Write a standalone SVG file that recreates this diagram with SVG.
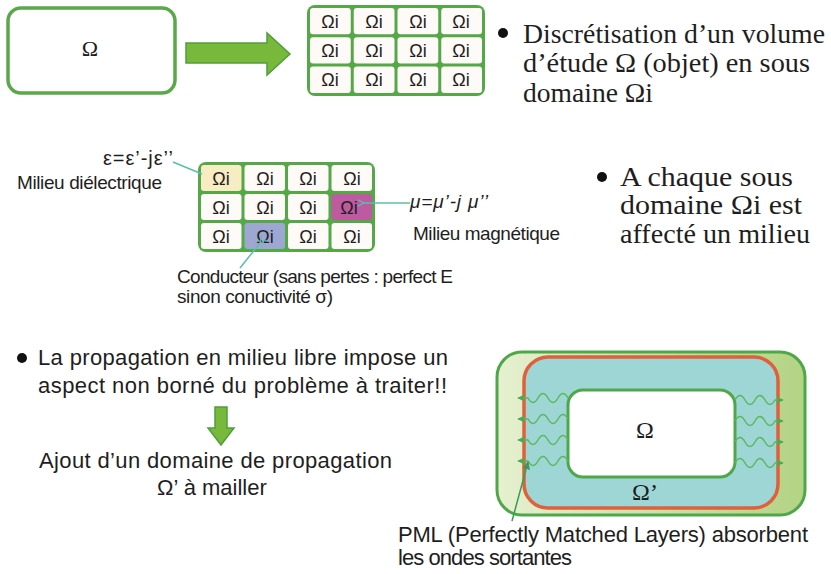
<svg xmlns="http://www.w3.org/2000/svg" width="831" height="574" viewBox="0 0 831 574">
<defs>
<style>
.serif{font-family:"Liberation Serif","Times New Roman",serif;fill:#1e1e1e}
.sans{font-family:"Liberation Sans",Arial,sans-serif;fill:#1e1e1e}
.cell{fill:#fefaf7}
.oi{font-family:"Liberation Sans",Arial,sans-serif;font-size:18px;fill:#1e1e1e;text-anchor:middle}
.grid{fill:#55a848}
.lbl{stroke:#5bbfa8;stroke-width:1.5;fill:none}
.wave{stroke:#5cb85c;stroke-width:1.5;fill:none}
.bigarrow{fill:#78b83a;stroke:#4f9e3c;stroke-width:1.5}
</style>
<marker id="chev" viewBox="0 0 10 10" refX="1" refY="5" markerWidth="8" markerHeight="8" orient="auto-start-reverse" markerUnits="userSpaceOnUse">
<path d="M9,1 L1,5 L9,9" fill="none" stroke="#5bbfa8" stroke-width="1.5"/>
</marker>
<marker id="wh" viewBox="0 0 10 10" refX="9" refY="5" markerWidth="7" markerHeight="7" orient="auto" markerUnits="userSpaceOnUse">
<path d="M0,0 L10,5 L0,10 z" fill="#4caa55"/>
</marker>
<marker id="ph" viewBox="0 0 10 10" refX="9" refY="5" markerWidth="8" markerHeight="8" orient="auto" markerUnits="userSpaceOnUse">
<path d="M0,0 L10,5 L0,10 z" fill="#3a9a5a"/>
</marker>
<linearGradient id="lg" x1="0" y1="0" x2="1" y2="0">
<stop offset="0" stop-color="#e6f0d0"/>
<stop offset="1" stop-color="#b3d384"/>
</linearGradient>
</defs>
<rect width="831" height="574" fill="#ffffff"/>

<g id="omega-box">
<rect x="8" y="8" width="167" height="85" rx="13" fill="#ffffff" stroke="#5aa84a" stroke-width="3.5"/>
<text class="serif" x="90" y="56" font-size="22" text-anchor="middle">Ω</text>
</g>

<g id="arrow-right">
<polygon class="bigarrow" points="186,43 267,43 267,33 290,54 267,75 267,63 186,63"/>
</g>

<g id="grid1">
<rect class="grid" x="307" y="5" width="178" height="91" rx="8"/>
<g>
<rect class="cell" x="310" y="8" width="40.75" height="26.3" rx="3"/>
<rect class="cell" x="353.75" y="8" width="40.75" height="26.3" rx="3"/>
<rect class="cell" x="397.5" y="8" width="40.75" height="26.3" rx="3"/>
<rect class="cell" x="441.25" y="8" width="40.75" height="26.3" rx="3"/>
<rect class="cell" x="310" y="37.3" width="40.75" height="26.3" rx="3"/>
<rect class="cell" x="353.75" y="37.3" width="40.75" height="26.3" rx="3"/>
<rect class="cell" x="397.5" y="37.3" width="40.75" height="26.3" rx="3"/>
<rect class="cell" x="441.25" y="37.3" width="40.75" height="26.3" rx="3"/>
<rect class="cell" x="310" y="66.6" width="40.75" height="26.3" rx="3"/>
<rect class="cell" x="353.75" y="66.6" width="40.75" height="26.3" rx="3"/>
<rect class="cell" x="397.5" y="66.6" width="40.75" height="26.3" rx="3"/>
<rect class="cell" x="441.25" y="66.6" width="40.75" height="26.3" rx="3"/>
</g>
<g>
<text class="oi" x="330" y="28">Ωi</text><text class="oi" x="374" y="28">Ωi</text><text class="oi" x="418" y="28">Ωi</text><text class="oi" x="461" y="28">Ωi</text>
<text class="oi" x="330" y="57">Ωi</text><text class="oi" x="374" y="57">Ωi</text><text class="oi" x="418" y="57">Ωi</text><text class="oi" x="461" y="57">Ωi</text>
<text class="oi" x="330" y="86">Ωi</text><text class="oi" x="374" y="86">Ωi</text><text class="oi" x="418" y="86">Ωi</text><text class="oi" x="461" y="86">Ωi</text>
</g>
</g>

<g id="text-discretisation">
<circle cx="503" cy="33" r="5" fill="#111"/>
<text class="serif" font-size="28" x="523" y="43" textLength="302" lengthAdjust="spacingAndGlyphs">Discrétisation d’un volume</text>
<text class="serif" font-size="28" x="523" y="72" textLength="287" lengthAdjust="spacingAndGlyphs">d’étude Ω (objet) en sous</text>
<text class="serif" font-size="28" x="523" y="102" textLength="130" lengthAdjust="spacingAndGlyphs">domaine Ωi</text>
</g>

<g id="grid2">
<rect class="grid" x="198" y="162" width="177" height="90" rx="8"/>
<g>
<rect x="201" y="165" width="40.5" height="26" rx="3" fill="#f8ecc2"/>
<rect class="cell" x="244.5" y="165" width="40.5" height="26" rx="3"/>
<rect class="cell" x="288" y="165" width="40.5" height="26" rx="3"/>
<rect class="cell" x="331.5" y="165" width="40.5" height="26" rx="3"/>
<rect class="cell" x="201" y="194" width="40.5" height="26" rx="3"/>
<rect class="cell" x="244.5" y="194" width="40.5" height="26" rx="3"/>
<rect class="cell" x="288" y="194" width="40.5" height="26" rx="3"/>
<rect x="331.5" y="194" width="40.5" height="26" rx="3" fill="#bd5aa0"/>
<rect class="cell" x="201" y="223" width="40.5" height="26" rx="3"/>
<rect x="244.5" y="223" width="40.5" height="26" rx="3" fill="#9ea7d2"/>
<rect class="cell" x="288" y="223" width="40.5" height="26" rx="3"/>
<rect class="cell" x="331.5" y="223" width="40.5" height="26" rx="3"/>
</g>
<g>
<text class="oi" x="221" y="185">Ωi</text><text class="oi" x="265" y="185">Ωi</text><text class="oi" x="308" y="185">Ωi</text><text class="oi" x="352" y="185">Ωi</text>
<text class="oi" x="221" y="214">Ωi</text><text class="oi" x="265" y="214">Ωi</text><text class="oi" x="308" y="214">Ωi</text><text class="oi" x="349" y="214">Ωi</text>
<text class="oi" x="221" y="243">Ωi</text><text class="oi" x="265" y="243">Ωi</text><text class="oi" x="308" y="243">Ωi</text><text class="oi" x="352" y="243">Ωi</text>
</g>
</g>

<g id="label-dielectric">
<text class="sans" font-size="20" x="103" y="165" textLength="70">ε=ε’-jε’’</text>
<text class="sans" font-size="19" x="17" y="189" textLength="145">Milieu diélectrique</text>
</g>
<g id="label-magnetic">
<text class="sans" font-size="19" font-style="italic" x="410" y="208" textLength="78">μ=μ’-j μ’’</text>
<text class="sans" font-size="19" x="413" y="240" textLength="147">Milieu magnétique</text>
</g>
<g id="label-conductor">
<text class="sans" font-size="19" x="177" y="283" textLength="276">Conducteur (sans pertes : perfect E</text>
<text class="sans" font-size="19" x="177" y="303" textLength="156">sinon  conuctivité σ)</text>
</g>

<g id="text-milieu">
<circle cx="602" cy="177" r="5" fill="#111"/>
<text class="serif" font-size="28" x="620" y="186" textLength="173" lengthAdjust="spacingAndGlyphs">A chaque sous</text>
<text class="serif" font-size="28" x="620" y="214" textLength="182" lengthAdjust="spacingAndGlyphs">domaine Ωi est</text>
<text class="serif" font-size="28" x="620" y="243" textLength="190" lengthAdjust="spacingAndGlyphs">affecté un milieu</text>
</g>

<g id="text-propagation">
<circle cx="22" cy="358" r="5" fill="#111"/>
<text class="sans" font-size="22" x="38" y="365" textLength="410">La propagation  en milieu libre impose un</text>
<text class="sans" font-size="22" x="38" y="393" textLength="409">aspect non borné du problème à traiter!!</text>
</g>

<g id="arrow-down">
<polygon class="bigarrow" points="215,407 227,407 227,428 234,428 221,445 208,428 215,428"/>
</g>

<g id="text-ajout">
<text class="sans" font-size="22" x="39" y="468" textLength="353">Ajout d’un domaine de propagation</text>
<text class="sans" font-size="22" x="157" y="495">Ω’ à mailler</text>
</g>

<g id="pml-figure">
<rect x="497" y="352" width="308" height="163" rx="25" fill="url(#lg)" stroke="#4ea84a" stroke-width="3"/>
<rect x="524" y="357" width="254" height="151" rx="24" fill="#9ed6d5" stroke="#e0603c" stroke-width="3.5"/>
<rect x="568" y="390" width="167" height="87" rx="15" fill="#ffffff" stroke="#4ea84a" stroke-width="3"/>
<text class="serif" font-size="24" x="645" y="438" text-anchor="middle">Ω</text>
<text class="serif" font-size="24" x="645" y="500" text-anchor="middle">Ω’</text>
</g>

<g id="connectors">
<line class="lbl" x1="173" y1="162" x2="202" y2="174"/>
<line class="lbl" x1="410" y1="203" x2="364" y2="203" marker-end="url(#chev)"/>
<line class="lbl" x1="240" y1="268" x2="260" y2="243" marker-end="url(#chev)"/>
<g>
<path class="wave" d="M568,398 q-5,-9 -10,0 t-10,0 t-10,0 t-10,0 l-10,0" marker-end="url(#wh)"/>
<path class="wave" d="M568,419 q-5,-9 -10,0 t-10,0 t-10,0 t-10,0 l-10,0" marker-end="url(#wh)"/>
<path class="wave" d="M568,440 q-5,-9 -10,0 t-10,0 t-10,0 t-10,0 l-10,0" marker-end="url(#wh)"/>
<path class="wave" d="M568,461 q-5,-9 -10,0 t-10,0 t-10,0 t-10,0 l-10,0" marker-end="url(#wh)"/>
<path class="wave" d="M735,400 q5,-9 10,0 t10,0 t10,0 t10,0 l8,0" marker-end="url(#wh)"/>
<path class="wave" d="M735,421 q5,-9 10,0 t10,0 t10,0 t10,0 l8,0" marker-end="url(#wh)"/>
<path class="wave" d="M735,442 q5,-9 10,0 t10,0 t10,0 t10,0 l8,0" marker-end="url(#wh)"/>
<path class="wave" d="M735,463 q5,-9 10,0 t10,0 t10,0 t10,0 l8,0" marker-end="url(#wh)"/>
</g>
<line x1="512" y1="521" x2="528" y2="462" stroke="#3a9a5a" stroke-width="1.5" marker-end="url(#ph)"/>
</g>

<g id="text-pml">
<text class="sans" font-size="22" x="398" y="542" textLength="410">PML (Perfectly Matched Layers) absorbent</text>
<text class="sans" font-size="22" x="398" y="565" textLength="174">les ondes sortantes</text>
</g>
</svg>
